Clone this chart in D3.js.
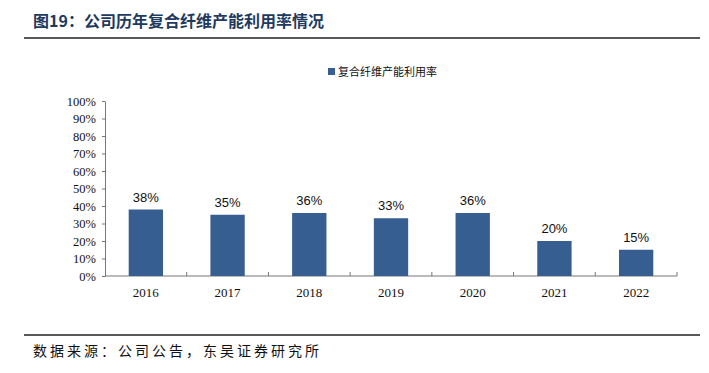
<!DOCTYPE html>
<html>
<head>
<meta charset="utf-8">
<script src="https://cdn.jsdelivr.net/npm/d3@7"></script>
<style>
  html, body { margin: 0; padding: 0; background: #fff; }
  svg { display: block; }
</style>
</head>
<body>
<svg id="chart" width="709" height="373"></svg>
<script>
// Data
const YEARS = ["2016","2017","2018","2019","2020","2021","2022"];
const utilization = [38, 35, 36, 33, 36, 20, 15];
const Y_TICKS = [0, 10, 20, 30, 40, 50, 60, 70, 80, 90, 100];

const TITLE = "图19：公司历年复合纤维产能利用率情况";
const SERIES_NAME = "复合纤维产能利用率";
const SOURCE = "数据来源：公司公告，东吴证券研究所";

const BAR = "#365E91";
const SERIF = "'Liberation Serif','Times New Roman',serif";
const SANS = "'Liberation Sans',Arial,sans-serif";
const CJK = "'Noto Sans CJK SC',sans-serif";

const svg = d3.select("#chart");

// Header / footer
svg.append("text")
  .attr("x", 33).attr("y", 27)
  .style("font-family", CJK)
  .style("font-size", "16px")
  .style("font-weight", "bold")
  .attr("fill", "#1F3A5F")
  .text(TITLE);

svg.append("line")
  .attr("x1", 24).attr("x2", 700).attr("y1", 38).attr("y2", 38)
  .attr("stroke", "#222").attr("stroke-width", 1.5);

svg.append("line")
  .attr("x1", 24).attr("x2", 700).attr("y1", 335).attr("y2", 335)
  .attr("stroke", "#222").attr("stroke-width", 1.5);

svg.append("text")
  .attr("x", 33).attr("y", 356)
  .style("font-family", CJK)
  .style("font-size", "14px")
  .style("letter-spacing", "3px")
  .attr("fill", "#111")
  .text(SOURCE);

// Legend
svg.append("rect")
  .attr("x", 328).attr("y", 68).attr("width", 7).attr("height", 7)
  .attr("fill", BAR);
svg.append("text")
  .attr("x", 338).attr("y", 76)
  .style("font-family", CJK)
  .style("font-size", "11px")
  .attr("fill", "#111")
  .text(SERIES_NAME);

// Scales
const x = d3.scaleBand().domain(YEARS).range([105, 677]).paddingInner(0.58).paddingOuter(0.29);
const y = d3.scaleLinear().domain([0, 100]).range([276, 101]);

const bandStep = (677 - 105) / YEARS.length;

// Axes
const yAxisG = svg.append("g").attr("transform", "translate(105,0)")
  .call(d3.axisLeft(y).tickValues(Y_TICKS).tickFormat(d => d + "%").tickSize(3).tickSizeOuter(0).tickPadding(6));
yAxisG.attr("font-family", null).attr("font-size", null);
yAxisG.select(".domain").attr("stroke", "#777");
yAxisG.selectAll(".tick line").attr("stroke", "#777");
yAxisG.selectAll("text")
  .style("font-family", SERIF).style("font-size", "12.5px").attr("fill", "#111");

// x axis line and category separators
const xAxisG = svg.append("g");
xAxisG.append("line")
  .attr("x1", 105).attr("x2", 677).attr("y1", y(0)).attr("y2", y(0))
  .attr("stroke", "#777");
xAxisG.selectAll(".sep").data(YEARS).join("line")
  .attr("class", "sep")
  .attr("x1", (d, i) => 105 + bandStep * (i + 1))
  .attr("x2", (d, i) => 105 + bandStep * (i + 1))
  .attr("y1", y(0)).attr("y2", y(0) - 4)
  .attr("stroke", "#777");
xAxisG.selectAll(".xlab").data(YEARS).join("text")
  .attr("class", "xlab")
  .attr("x", d => x(d) + x.bandwidth() / 2)
  .attr("y", 297)
  .attr("text-anchor", "middle")
  .style("font-family", SERIF).style("font-size", "13px").attr("fill", "#111")
  .text(d => d);

// Bars
svg.selectAll(".bar").data(utilization).join("rect")
  .attr("class", "bar")
  .attr("x", (d, i) => x(YEARS[i]))
  .attr("width", x.bandwidth())
  .attr("y", d => y(d))
  .attr("height", d => y(0) - y(d))
  .attr("fill", BAR);

// Value labels
svg.selectAll(".val").data(utilization).join("text")
  .attr("class", "val")
  .attr("x", (d, i) => x(YEARS[i]) + x.bandwidth() / 2)
  .attr("y", d => y(d) - 8)
  .attr("text-anchor", "middle")
  .style("font-family", SANS).style("font-size", "13px").attr("fill", "#111")
  .text(d => d + "%");
</script>
</body>
</html>
